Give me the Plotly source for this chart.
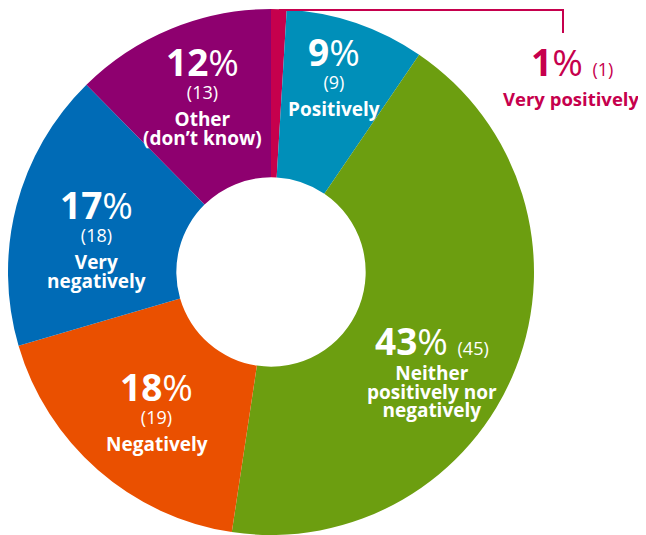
import math
import plotly.graph_objects as go

# ---- data ----
labels = ["Very positively", "Positively", "Neither positively nor negatively",
          "Negatively", "Very negatively", "Other (don't know)"]
counts = [1, 9, 45, 19, 18, 13]
percents = [1, 9, 43, 18, 17, 12]
label_lines = [["Very positively"], ["Positively"],
               ["Neither", "positively nor", "negatively"],
               ["Negatively"], ["Very", "negatively"],
               ["Other", "(don\u2019t know)"]]
colors = ["#C6004D", "#008FB9", "#6C9E10", "#EA5000", "#006BB6", "#8E006F"]

# ---- geometry / style (page pixels; the page body has an 8px margin) ----
OFF = 8
FW, FH = 646 - OFF, 535 - OFF
CX, CY, R = 271, 272, 263
HOLE = 0.36
FONT = "Open Sans"
PCT_SIZE = 37
CNT_SIZE = 18
LBL_SIZE = 19
LINE_GAP = 18.5

# per-slice label placement: (angle offset from slice middle in deg, radius in px)
place = {1: (-2.9, 229), 2: (1.8, 175), 3: (3.6, 162), 4: (6.3, 187), 5: (4.1, 221)}
inline_count = {0, 2}


def px(x):
    return (x - OFF) / FW


def py(y):
    return 1 - (y - OFF) / FH


fig = go.Figure(go.Pie(
    labels=labels, values=counts, sort=False, direction="clockwise", rotation=0,
    hole=HOLE, marker=dict(colors=colors, line=dict(width=0)),
    textinfo="none", hoverinfo="label+value", showlegend=False,
    domain=dict(x=[px(CX - R), px(CX + R)], y=[max(0, py(CY + R)), py(CY - R)]),
))

total = sum(counts)
cum = 0
mids = []
for c in counts:
    mids.append((cum + c / 2) / total * 360)
    cum += c

annotations = []


def add(x, y, text, size, color="white"):
    annotations.append(dict(
        x=px(x), y=py(y), xref="paper", yref="paper", showarrow=False,
        xanchor="center", yanchor="middle", align="center", text=text,
        font=dict(family=FONT, size=size, color=color, weight=700),
    ))


def pct_html(i):
    return f"<span style='font-size:{PCT_SIZE}px'>{percents[i]}<span style='font-weight:400'>%</span></span>"


def cnt_html(i):
    return f"<span style='font-size:{CNT_SIZE}px;font-weight:400'>({counts[i]})</span>"


def add_pct(x, y, i, color="white"):
    """y = visual centre of the big percentage."""
    if i in inline_count:
        add(x, y - 1, pct_html(i) + " " + cnt_html(i), PCT_SIZE, color)
    else:
        add(x, y + 7.7, pct_html(i) + "<br>" + cnt_html(i), 17.9, color)


def add_lines(x, y_first, lines, color="white", size=LBL_SIZE):
    base = LINE_GAP / 1.3
    txt = "<br>".join(f"<span style='font-size:{size}px'>{l}</span>" for l in lines)
    yc = y_first + (len(lines) - 1) * LINE_GAP / 2
    add(x, yc, txt, base, color)


# labels inside slices
for i in range(1, len(counts)):
    d, r = place[i]
    a = math.radians(mids[i] + d)
    x = CX + r * math.sin(a)
    y = CY - r * math.cos(a)
    add_pct(x, y, i)
    y0 = y + (32 if i in inline_count else 57)
    add_lines(x, y0, label_lines[i])

# outside label for the smallest slice, with connector
a0 = math.radians(mids[0])
sx = CX + R * math.sin(a0)
sy = CY - R * math.cos(a0) + 1
lx, ly = 571, 63
ex, ey = 563, ly - 30
add_pct(lx + 1, ly, 0, color=colors[0])
add_lines(lx, ly + 35, label_lines[0], color=colors[0], size=18.5)

fig.update_layout(
    width=FW, height=FH, margin=dict(l=0, r=0, t=0, b=0),
    paper_bgcolor="white", plot_bgcolor="white",
    annotations=annotations,
    shapes=[dict(type="path", xref="paper", yref="paper",
                 path=f"M {px(sx)} {py(sy)} L {px(ex)} {py(sy)} L {px(ex)} {py(ey)}",
                 line=dict(color=colors[0], width=2))],
)

fig.write_html("out.html")
